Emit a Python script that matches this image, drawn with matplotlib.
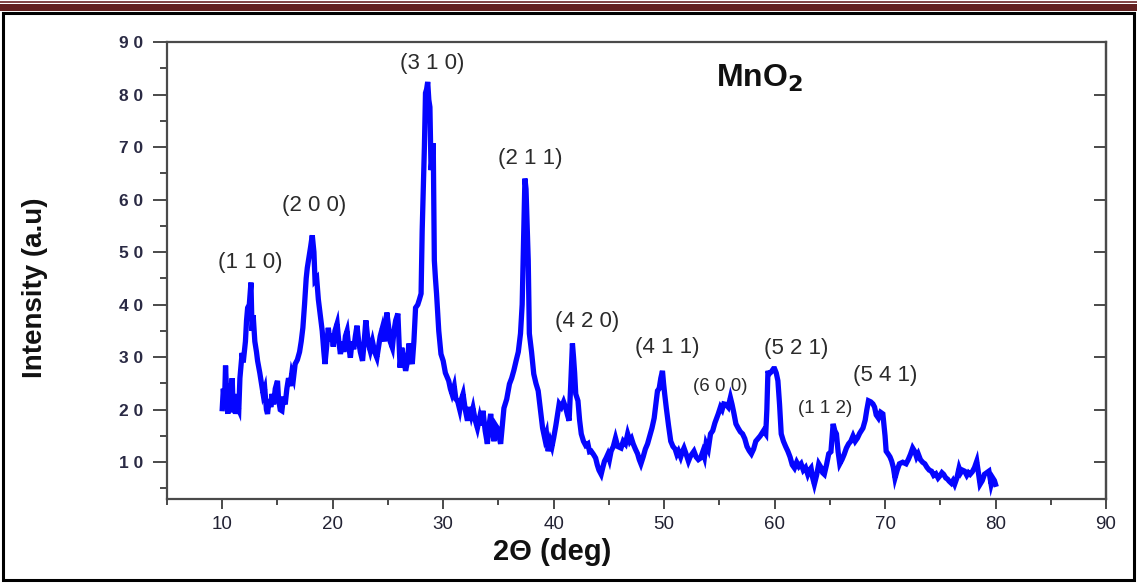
import matplotlib
matplotlib.use("Agg")
import matplotlib.pyplot as plt
from matplotlib.lines import Line2D
from matplotlib.patches import Rectangle

# XRD pattern of MnO2
two_theta = [10.0, 10.1, 10.2, 10.3, 10.4, 10.5, 10.6, 10.7, 10.8, 10.9, 11.0, 11.1, 11.2, 11.3, 11.5,
             11.6, 11.8, 11.9, 12.1, 12.2, 12.3, 12.45, 12.6, 12.7, 12.8, 12.95, 13.1, 13.2, 13.4, 13.55,
             13.7, 13.85, 14.0, 14.1, 14.25, 14.4, 14.5, 14.65, 14.8, 15.0, 15.1, 15.25, 15.4, 15.55, 15.7,
             15.85, 16.0, 16.15, 16.3, 16.45, 16.6, 16.8, 17.0, 17.15, 17.3, 17.45, 17.6, 17.7, 17.85, 18.0,
             18.15, 18.3, 18.4, 18.55, 18.7, 18.9, 19.05, 19.2, 19.3, 19.45, 19.6, 19.75, 19.9, 20.05, 20.2,
             20.4, 20.55, 20.7, 20.85, 21.0, 21.15, 21.3, 21.45, 21.6, 21.75, 21.9, 22.05, 22.2, 22.35, 22.5,
             22.7, 22.85, 23.0, 23.15, 23.3, 23.4, 23.6, 23.8, 24.0, 24.15, 24.3, 24.5, 24.7, 24.9, 25.05,
             25.2, 25.4, 25.55, 25.7, 25.9, 26.0, 26.1, 26.25, 26.4, 26.6, 26.75, 26.9, 27.05, 27.2, 27.35,
             27.5, 27.7, 27.85, 28.0, 28.1, 28.2, 28.3, 28.4, 28.5, 28.6, 28.7, 28.8, 28.9, 29.0, 29.1,
             29.2, 29.3, 29.4, 29.6, 29.8, 30.0, 30.2, 30.5, 30.65, 30.8, 31.0, 31.15, 31.3, 31.5, 31.65,
             31.8, 32.0, 32.2, 32.4, 32.55, 32.7, 32.9, 33.1, 33.3, 33.45, 33.6, 33.8, 34.0, 34.15, 34.3,
             34.45, 34.6, 34.75, 34.9, 35.05, 35.2, 35.35, 35.5, 35.75, 36.0, 36.2, 36.4, 36.6, 36.8, 37.0,
             37.15, 37.3, 37.4, 37.5, 37.6, 37.7, 37.8, 38.0, 38.2, 38.4, 38.6, 38.8, 39.0, 39.2, 39.35,
             39.5, 39.7, 39.85, 40.0, 40.2, 40.35, 40.5, 40.7, 40.9, 41.1, 41.25, 41.4, 41.55, 41.7, 41.8,
             41.9, 42.0, 42.2, 42.35, 42.5, 42.7, 42.9, 43.1, 43.25, 43.4, 43.6, 43.8, 43.95, 44.1, 44.3,
             44.45, 44.6, 44.75, 44.9, 45.05, 45.2, 45.4, 45.6, 45.8, 46.1, 46.3, 46.5, 46.7, 46.9, 47.05,
             47.2, 47.4, 47.6, 47.75, 47.9, 48.1, 48.3, 48.5, 48.7, 48.9, 49.1, 49.25, 49.4, 49.55, 49.7,
             49.85, 49.95, 50.05, 50.2, 50.4, 50.6, 50.8, 51.0, 51.15, 51.3, 51.5, 51.65, 51.8, 52.0, 52.2,
             52.35, 52.5, 52.7, 52.9, 53.1, 53.3, 53.5, 53.65, 53.8, 54.0, 54.2, 54.4, 54.6, 54.9, 55.1,
             55.25, 55.4, 55.6, 55.8, 56.0, 56.15, 56.3, 56.5, 56.7, 56.9, 57.1, 57.3, 57.5, 57.7, 57.9,
             58.1, 58.3, 58.5, 58.7, 59.0, 59.2, 59.3, 59.4, 59.5, 59.7, 59.9, 60.0, 60.15, 60.3, 60.45,
             60.6, 60.8, 61.0, 61.2, 61.4, 61.6, 61.8, 62.0, 62.2, 62.4, 62.6, 62.8, 63.0, 63.15, 63.3,
             63.45, 63.6, 63.8, 64.0, 64.2, 64.35, 64.5, 64.7, 64.9, 65.1, 65.3, 65.45, 65.6, 65.75, 65.9,
             66.1, 66.3, 66.5, 66.7, 66.9, 67.1, 67.3, 67.5, 67.7, 68.0, 68.2, 68.35, 68.5, 68.7, 68.9,
             69.05, 69.2, 69.4, 69.6, 69.8, 70.0, 70.1, 70.3, 70.45, 70.6, 70.75, 70.9, 71.1, 71.3, 71.6,
             71.9, 72.1, 72.3, 72.5, 72.7, 72.85, 73.0, 73.2, 73.4, 73.6, 73.8, 74.0, 74.2, 74.4, 74.6,
             74.8, 75.0, 75.15, 75.3, 75.5, 75.65, 75.8, 76.0, 76.15, 76.3, 76.5, 76.7, 76.85, 77.0, 77.2,
             77.4, 77.55, 77.7, 77.9, 78.1, 78.3, 78.45, 78.6, 78.8, 79.0, 79.2, 79.4, 79.5, 79.6, 79.75,
             79.9, 80.0]
intensity = [20.2, 24, 21, 28.4, 23, 19.2, 25, 20, 22, 26, 19.5, 23, 19.2, 21, 20,
             26, 30.8, 29, 33, 37, 39.4, 40, 44.2, 35, 38, 33, 31, 29.3, 27, 25,
             23, 24, 20, 19.2, 22, 20.5, 23, 21, 24, 25.5, 22, 20, 19.8, 22.5, 21,
             24, 26, 24.5, 27, 26, 28.7, 29.5, 31, 33, 35.6, 40, 45, 47, 49, 51,
             53.2, 50, 44.6, 45, 41, 37.5, 35, 31, 28.7, 32, 35.6, 33, 34.5, 32, 35,
             36.4, 33, 30.6, 33, 31, 34, 35, 32, 29.9, 33, 31.5, 34, 36, 33, 31,
             29.3, 33, 37, 34, 32, 31.2, 33, 31, 29.9, 32, 34, 35.6, 33, 38.5, 36,
             33, 31.8, 35, 37, 38.3, 33, 28, 31.8, 30, 27.4, 29, 32.6, 30, 28.7, 33,
             39.4, 40, 41, 42.1, 54.1, 62.3, 70, 80.3, 81, 82.4, 79, 77.6, 65.6, 68, 70.7,
             48.4, 45, 42.1, 35, 30.6, 29.3, 27, 25.5, 24, 23, 24.5, 22, 21.7, 20, 22,
             23, 20, 17.9, 20.5, 19, 20.3, 18, 16.5, 18.5, 17, 19.8, 16, 13.5, 17, 19.2,
             16, 14, 17, 16.5, 15, 13.5, 17, 20.3, 22, 24.9, 26, 27.5, 29.3, 31, 34.5,
             40, 54.7, 64, 62, 55, 48.4, 34.5, 31, 26.8, 25, 23.6, 20, 16.5, 14.5, 15.5,
             12.1, 14, 13, 14.6, 17, 19, 21.1, 20.5, 21.5, 20.3, 19, 17.9, 25, 32.6, 30,
             27, 23, 21.7, 18, 15.4, 14, 13.2, 13.5, 12, 12.1, 11.5, 10.8, 9.5, 8.5, 7.7,
             9, 10.2, 10.8, 11.5, 10.5, 12.1, 13, 14.6, 13, 12.7, 14, 13.5, 15.4, 14, 14.5,
             13.5, 12.5, 11.6, 10.5, 9.7, 11, 12.5, 13.5, 15, 16.5, 18.4, 21, 23.6, 24, 26,
             27.4, 25, 23, 20.3, 17, 14, 13, 12.5, 11.5, 12.1, 11, 12, 12.7, 11.5, 10.2,
             11, 11.5, 12.1, 11, 10.5, 10.8, 12, 11, 13.5, 12.5, 15.4, 16, 17.5, 19.2, 20.5,
             20, 21.1, 21, 20.5, 22.3, 21, 19.5, 17.3, 16.5, 15.8, 15.4, 14.5, 13, 12.2, 11.6,
             12.5, 14, 14.5, 15, 16, 15.4, 20, 27.4, 26.8, 27.2, 27.8, 27.8, 27, 25.5, 21,
             15.4, 14, 13, 12.1, 11, 9.5, 8.9, 10, 9.2, 9.7, 8.5, 9, 7.7, 8.5, 8.9,
             7, 5.8, 7.5, 9.7, 9, 8, 7.7, 9.5, 11.6, 12, 17.3, 16, 15.4, 12, 9.7,
             10.5, 11.5, 12.7, 13.5, 14, 15, 14, 14.6, 15.5, 16.5, 18, 20, 21.7, 21.5, 21.1,
             20.5, 19, 18.4, 19.5, 19.2, 15, 12.1, 11.5, 11, 10.2, 9, 7, 8.5, 9.7, 10,
             9.7, 10.5, 11.5, 12.7, 12, 11, 11.6, 10.5, 10, 9.7, 9, 8.5, 8.3, 7.5, 7.8,
             7, 7.5, 8, 7.7, 7, 6.8, 6.4, 6, 6.5, 5.8, 7, 8.9, 8, 8.5, 8.3,
             7.5, 8, 7.7, 8.2, 9, 10.2, 8, 5.8, 6.5, 7.7, 8, 8.3, 7, 5.8, 7,
             6.5, 5.8]

# peak labels (hkl) and where they sit
peak_labels = ["(1 1 0)", "(2 0 0)", "(3 1 0)", "(2 1 1)", "(4 2 0)", "(4 1 1)",
               "(6 0 0)", "(5 2 1)", "(1 1 2)", "(5 4 1)"]
peak_x = [12.5, 18.3, 29.0, 37.9, 43.0, 50.3, 55.1, 62.0, 64.6, 70.0]
peak_y = [48.0, 58.9, 86.0, 67.9, 36.8, 31.8, 24.4, 31.6, 20.3, 26.6]
peak_small = [False, False, False, False, False, False, True, False, True, False]

x_ticks = [10, 20, 30, 40, 50, 60, 70, 80, 90]
y_ticks = [10, 20, 30, 40, 50, 60, 70, 80, 90]

W, H = 1137, 583
fig = plt.figure(figsize=(W / 100, H / 100), dpi=100)
ax = fig.add_axes([167 / W, 1 - 499 / H, (1106 - 167) / W, (499 - 42) / H])

ax.plot(two_theta, intensity, color="#0505ff", lw=3.8, solid_joinstyle="miter")

ax.set_xlim(5, 90)
ax.set_ylim(3, 90)

spine_col = "#4a4a4a"
for s in ax.spines.values():
    s.set_color(spine_col)
    s.set_linewidth(1.6)

ax.set_xticks(x_ticks)
ax.set_xticks([x + 5 for x in [0] + x_ticks[:-1]], minor=True)
ax.set_yticks(y_ticks)
ax.set_yticks([y - 5 for y in y_ticks], minor=True)
ax.set_yticklabels([" ".join(str(v)) for v in y_ticks])

sans = ["Liberation Sans", "DejaVu Sans"]
for lab in ax.get_xticklabels():
    lab.set_family(sans)
    lab.set_fontsize(13.5)
    lab.set_color("#222233")
for lab in ax.get_yticklabels():
    lab.set_family(sans)
    lab.set_fontweight("bold")
    lab.set_fontsize(12.5)
    lab.set_color("#2a2a44")

ax.tick_params(axis="y", which="major", direction="out", length=10, width=1.4,
               color=spine_col, pad=7)
ax.tick_params(axis="y", which="minor", direction="out", length=5, width=1.4,
               color=spine_col)
ax.tick_params(axis="x", which="major", direction="out", length=7, width=1.4,
               color=spine_col, pad=5)
ax.tick_params(axis="x", which="minor", direction="out", length=4, width=1.4,
               color=spine_col)

# right side: inward ticks only
sec = ax.secondary_yaxis("right")
sec.set_yticks(y_ticks[:-1])
sec.tick_params(direction="in", length=9, width=1.4, color=spine_col, labelright=False)
sec.spines["right"].set_color(spine_col)
sec.spines["right"].set_linewidth(1.6)

for lab, px, py, small in zip(peak_labels, peak_x, peak_y, peak_small):
    ax.text(px, py, lab, ha="center", va="center",
            fontsize=13.5 if small else 16, color="#2b2b2b", family=sans)

ax.text(760 / W, 1 - 78 / H, r"MnO$_\mathbf{2}$", transform=fig.transFigure,
        ha="center", va="center", fontsize=23, fontweight="bold",
        family=sans, color="#111111")

fig.text(35 / W, 1 - 288 / H, "Intensity (a.u)", rotation=90, ha="center", va="center",
         fontsize=20, fontweight="bold", family=sans, color="#111111")
fig.text(552 / W, 1 - 552 / H, "2\u0398 (deg)", ha="center", va="center",
         fontsize=21, fontweight="bold", family=sans, color="#111111")

# page decoration: dark red header band and black border
fig.add_artist(Line2D([0, 1], [1 - 1.5 / H, 1 - 1.5 / H], transform=fig.transFigure,
                      color="#6b2424", lw=1.2))
fig.add_artist(Rectangle((0, 1 - 11 / H), 1, 7 / H, transform=fig.transFigure,
                         facecolor="#62201f", edgecolor="none"))
fig.add_artist(Rectangle((3 / W, 3 / H), (1134 - 3) / W, (583 - 12.5 - 3) / H,
                         transform=fig.transFigure, facecolor="none",
                         edgecolor="black", lw=2.2))

fig.savefig("out.png", dpi=100)
